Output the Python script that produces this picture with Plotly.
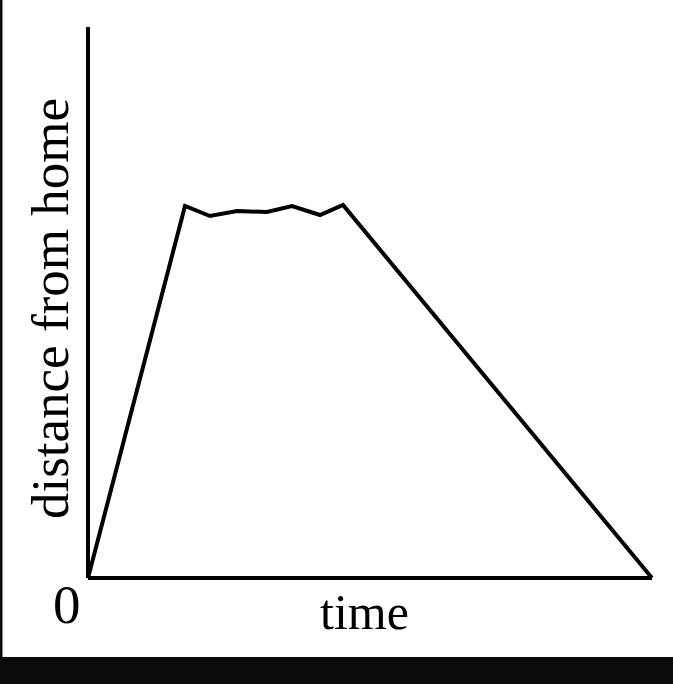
import plotly.graph_objects as go

# data (time units / distance units)
time_vals = [0, 97, 122, 149, 179, 204, 232, 255, 564]
distance_vals = [0, 372, 362, 367, 366, 372, 363, 373, 0]
x_label = "time"
y_label = "distance from home"
origin_label = "0"

W, H = 673, 684
L, R, T, B = 88, 652, 27, 578  # plot area in pixels
x_max = 564
y_max = 551

fig = go.Figure()
fig.add_trace(go.Scatter(
    x=time_vals, y=distance_vals, mode="lines",
    line=dict(color="black", width=4), hoverinfo="skip", cliponaxis=False,
    showlegend=False,
))

pad = 4
fig.update_layout(
    width=W, height=H,
    margin=dict(l=L - pad, r=W - R - pad, t=T - pad, b=H - B - pad),
    paper_bgcolor="white", plot_bgcolor="white",
    xaxis=dict(range=[-pad, x_max + pad], visible=False, fixedrange=True),
    yaxis=dict(range=[-pad, y_max + pad], visible=False, fixedrange=True),
    font=dict(family="Liberation Serif, Times New Roman, serif", color="black"),
)

# axes lines
fig.add_shape(type="line", x0=0, x1=0, y0=0, y1=y_max, xref="x", yref="y",
              line=dict(color="black", width=4))
fig.add_shape(type="line", x0=0, x1=x_max, y0=0, y1=0, xref="x", yref="y",
              line=dict(color="black", width=4))

# helpers to convert pixel -> paper coords
pw = (R + pad) - (L - pad)
ph = (B + pad) - (T - pad)
def px(xp):
    return (xp - (L - pad)) / pw
def py(yp):
    return 1 - (yp - (T - pad)) / ph

# black frame pieces from the photo
fig.add_shape(type="rect", xref="paper", yref="paper",
              x0=px(-2), x1=px(2.5), y0=py(658), y1=py(-2),
              fillcolor="#0a0a0a", line=dict(width=0), layer="above")
fig.add_shape(type="rect", xref="paper", yref="paper",
              x0=px(-2), x1=px(W + 2), y0=py(H + 2), y1=py(657),
              fillcolor="#0a0a0a", line=dict(width=0), layer="above")

fig.add_annotation(text=x_label, xref="paper", yref="paper",
                   x=px(364), y=py(612), showarrow=False,
                   font=dict(size=50), xanchor="center", yanchor="middle")
fig.add_annotation(text=origin_label, xref="paper", yref="paper",
                   x=px(67), y=py(604), showarrow=False,
                   font=dict(size=55), xanchor="center", yanchor="middle")
fig.add_annotation(text=y_label, xref="paper", yref="paper",
                   x=px(50), y=py(309), showarrow=False, textangle=-90,
                   font=dict(size=53), xanchor="center", yanchor="middle")

fig.write_html("out.html", config={"displayModeBar": False},
               post_script="document.body.style.margin='0';document.body.style.overflow='hidden';")
